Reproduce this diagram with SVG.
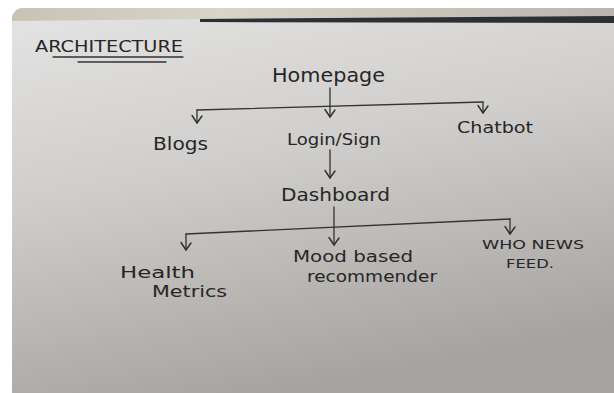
<svg xmlns="http://www.w3.org/2000/svg" width="614" height="393" viewBox="0 0 614 393">
  <defs>
    <linearGradient id="paper" x1="0" y1="0" x2="0.3" y2="1">
      <stop offset="0" stop-color="#e4e4e4"/>
      <stop offset="0.45" stop-color="#d0cecc"/>
      <stop offset="1" stop-color="#a6a3a0"/>
    </linearGradient>
    <linearGradient id="edge" x1="0" y1="0" x2="1" y2="0">
      <stop offset="0" stop-color="#c9c3b4"/>
      <stop offset="0.35" stop-color="#d8d4c8"/>
      <stop offset="1" stop-color="#b9b6ae"/>
    </linearGradient>
    <clipPath id="photo">
      <rect x="12" y="8" width="612" height="400" rx="11" ry="11"/>
    </clipPath>
    <marker id="arrd" viewBox="0 0 12 10" refX="6" refY="9" markerWidth="12" markerHeight="10" markerUnits="userSpaceOnUse" orient="0">
      <path d="M1,1.5 L6,9 L11,2" fill="none" stroke="#2e2e2e" stroke-width="1.4" stroke-linecap="round" stroke-linejoin="round"/>
    </marker>
  </defs>
  <style>
    .t { font-family: "DejaVu Sans", "Liberation Sans", sans-serif; fill: #262626; }
    .c { fill: none; stroke: #333333; stroke-width: 1.3; stroke-linecap: round; }
  </style>
  <rect x="0" y="0" width="614" height="393" fill="#ffffff"/>
  <g clip-path="url(#photo)">
    <rect x="12" y="8" width="612" height="400" fill="url(#paper)"/>
    <path d="M12,8 L614,8 L614,17 L200,19 L12,21 Z" fill="url(#edge)"/>
    <path d="M200,19 L614,16 L614,23 L200,22 Z" fill="#2c2f33"/>
  </g>

  <g id="title">
    <text class="t" x="35" y="52" font-size="16" textLength="148" lengthAdjust="spacingAndGlyphs">ARCHITECTURE</text>
    <line class="c" x1="53" y1="57" x2="183" y2="57"/>
    <line class="c" x1="78" y1="62" x2="166" y2="62" stroke-width="2"/>
  </g>

  <g id="connectors">
    <line class="c" x1="330" y1="88" x2="330" y2="117" marker-end="url(#arrd)"/>
    <line class="c" x1="197" y1="110" x2="483" y2="102"/>
    <line class="c" x1="197" y1="110" x2="197" y2="123" marker-end="url(#arrd)"/>
    <line class="c" x1="483" y1="102" x2="483" y2="113" marker-end="url(#arrd)"/>
    <line class="c" x1="330" y1="150" x2="330" y2="178" marker-end="url(#arrd)"/>
    <line class="c" x1="334" y1="207" x2="334" y2="245" marker-end="url(#arrd)"/>
    <line class="c" x1="186" y1="234" x2="510" y2="219"/>
    <line class="c" x1="186" y1="234" x2="186" y2="250" marker-end="url(#arrd)"/>
    <line class="c" x1="510" y1="219" x2="510" y2="234" marker-end="url(#arrd)"/>
  </g>

  <g id="homepage">
    <text class="t" x="272" y="82" font-size="20" textLength="113" lengthAdjust="spacingAndGlyphs">Homepage</text>
  </g>
  <g id="blogs">
    <text class="t" x="153" y="150" font-size="17" textLength="55" lengthAdjust="spacingAndGlyphs">Blogs</text>
  </g>
  <g id="login">
    <text class="t" x="287" y="145" font-size="16" textLength="94" lengthAdjust="spacingAndGlyphs">Login/Sign</text>
  </g>
  <g id="chatbot">
    <text class="t" x="457" y="133" font-size="16" textLength="76" lengthAdjust="spacingAndGlyphs">Chatbot</text>
  </g>
  <g id="dashboard">
    <text class="t" x="281" y="201" font-size="18" textLength="109" lengthAdjust="spacingAndGlyphs">Dashboard</text>
  </g>
  <g id="health">
    <text class="t" x="120" y="278" font-size="16" textLength="75" lengthAdjust="spacingAndGlyphs">Health</text>
    <text class="t" x="152" y="297" font-size="16" textLength="75" lengthAdjust="spacingAndGlyphs">Metrics</text>
  </g>
  <g id="mood">
    <text class="t" x="293" y="262" font-size="16" textLength="120" lengthAdjust="spacingAndGlyphs">Mood based</text>
    <text class="t" x="307" y="282" font-size="15" textLength="130" lengthAdjust="spacingAndGlyphs">recommender</text>
  </g>
  <g id="who">
    <text class="t" x="482" y="249" font-size="13" textLength="102" lengthAdjust="spacingAndGlyphs">WHO NEWS</text>
    <text class="t" x="506" y="268" font-size="12" textLength="48" lengthAdjust="spacingAndGlyphs">FEED.</text>
  </g>
</svg>
